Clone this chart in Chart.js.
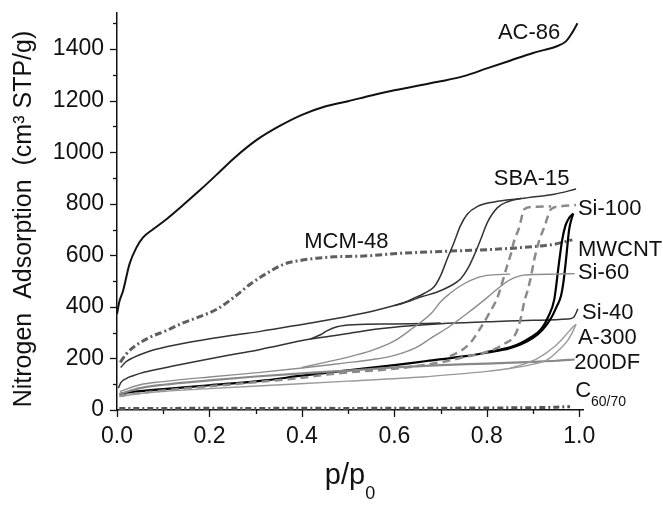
<!DOCTYPE html>
<html>
<head>
<meta charset="utf-8">
<script src="https://cdn.jsdelivr.net/npm/chart.js@4.4.1/dist/chart.umd.min.js"></script>
<style>
  body { margin: 0; background: #fff; }
</style>
</head>
<body>
<canvas id="isoChart" width="663" height="505"></canvas>
<script>
const FONT = "'Liberation Sans', Arial, sans-serif";

// axis ticks
const X_TICKS = [0, 0.1, 0.2, 0.3, 0.4, 0.5, 0.6, 0.7, 0.8, 0.9, 1.0];
const Y_TICKS = [0, 100, 200, 300, 400, 500, 600, 700, 800, 900, 1000, 1100, 1200, 1300, 1400, 1500];

// isotherms, [p/p0, cm3 STP/g]
const AC86 = [[0, 372], [0.005, 420], [0.013, 462], [0.027, 566], [0.042, 630], [0.056, 669], [0.078, 701],
  [0.107, 740], [0.143, 795], [0.179, 852], [0.215, 912], [0.252, 975], [0.3, 1045], [0.35, 1100], [0.4, 1145],
  [0.45, 1177], [0.5, 1198], [0.55, 1220], [0.6, 1240], [0.65, 1258], [0.7, 1275], [0.75, 1295], [0.8, 1325],
  [0.85, 1355], [0.9, 1385], [0.925, 1397], [0.95, 1410], [0.971, 1430], [0.984, 1462], [0.996, 1500]];

const MCM48 = [[0.007, 185], [0.02, 217], [0.035, 243], [0.071, 282], [0.107, 308], [0.143, 338], [0.179, 362],
  [0.216, 391], [0.252, 436], [0.288, 488], [0.324, 530], [0.36, 565], [0.396, 580], [0.432, 589], [0.469, 594],
  [0.541, 598], [0.613, 608], [0.7, 615], [0.8, 622], [0.874, 630], [0.946, 643], [0.985, 660]];

const SBA15_ADS = [[0.008, 165], [0.02, 188], [0.035, 203], [0.07, 228], [0.107, 245], [0.18, 270], [0.25, 290],
  [0.31, 305], [0.4, 332], [0.49, 360], [0.55, 382], [0.6, 405], [0.635, 424], [0.66, 440], [0.69, 456],
  [0.72, 480], [0.743, 508], [0.758, 546], [0.772, 598], [0.787, 663], [0.801, 727], [0.823, 785], [0.845, 808],
  [0.874, 820], [0.946, 837], [0.993, 857]];
const SBA15_DES = [[0.6, 405], [0.62, 416], [0.64, 432], [0.664, 452], [0.686, 478], [0.7, 521], [0.714, 585],
  [0.729, 650], [0.743, 715], [0.758, 760], [0.78, 790], [0.816, 807], [0.874, 820]];

const SI40_ADS = [[0.003, 85], [0.008, 105], [0.02, 122], [0.035, 133], [0.05, 142], [0.107, 165], [0.179, 191],
  [0.25, 215], [0.31, 235], [0.418, 275], [0.49, 294], [0.563, 314], [0.635, 327], [0.7, 335], [0.8, 342],
  [0.9, 348], [0.975, 353], [0.988, 360], [0.997, 392]];
const SI40_DES = [[0.418, 275], [0.44, 292], [0.454, 307], [0.476, 323], [0.512, 331], [0.6, 334], [0.7, 337]];

const MWCNT_ADS = [[0.006, 62], [0.02, 67], [0.05, 73], [0.107, 82], [0.2, 96], [0.31, 113], [0.4, 133],
  [0.49, 152], [0.6, 174], [0.67, 190], [0.75, 208], [0.8, 222], [0.85, 240], [0.874, 255], [0.9, 280],
  [0.92, 310], [0.94, 360], [0.952, 405], [0.96, 440], [0.966, 500], [0.971, 579], [0.978, 700], [0.983, 740],
  [0.987, 762]];
const MWCNT_DES = [[0.8, 225], [0.85, 243], [0.874, 260], [0.895, 282], [0.91, 300], [0.922, 325], [0.932, 359],
  [0.946, 430], [0.956, 570], [0.963, 660], [0.97, 715], [0.978, 745], [0.987, 762]];

const SI100_ADS = [[0.005, 55], [0.05, 66], [0.1, 76], [0.2, 92], [0.3, 108], [0.4, 125], [0.454, 138],
  [0.5, 146], [0.6, 160], [0.7, 185], [0.75, 205], [0.808, 230], [0.837, 256], [0.862, 295], [0.874, 360],
  [0.881, 420], [0.888, 463], [0.895, 514], [0.902, 579], [0.913, 656], [0.924, 708], [0.939, 779],
  [0.96, 790], [0.993, 795]];
const SI100_DES = [[0.72, 208], [0.744, 230], [0.765, 262], [0.787, 320], [0.805, 375], [0.823, 437],
  [0.845, 566], [0.852, 605], [0.859, 656], [0.87, 708], [0.881, 779], [0.9, 788], [0.939, 790]];

const SI60_ADS = [[0.006, 72], [0.05, 98], [0.1, 110], [0.2, 128], [0.31, 146], [0.4, 163], [0.49, 182],
  [0.55, 195], [0.6, 212], [0.65, 245], [0.68, 280], [0.72, 325], [0.76, 378], [0.8, 435], [0.83, 480],
  [0.85, 505], [0.88, 523], [0.95, 527], [0.99, 529]];
const SI60_DES = [[0.4, 165], [0.45, 185], [0.5, 205], [0.55, 230], [0.6, 268], [0.64, 318], [0.68, 375],
  [0.7, 420], [0.72, 452], [0.74, 478], [0.765, 503], [0.8, 522], [0.85, 527]];

const A300_ADS = [[0.006, 52], [0.05, 64], [0.1, 72], [0.2, 83], [0.324, 95], [0.5, 112], [0.66, 128],
  [0.729, 138], [0.8, 150], [0.837, 158], [0.896, 176], [0.932, 196], [0.96, 240], [0.975, 270], [0.986, 305],
  [0.993, 333]];
const A300_DES = [[0.85, 162], [0.88, 178], [0.91, 200], [0.946, 245], [0.968, 285], [0.985, 320], [0.993, 333]];

const DF200 = [[0.005, 62], [0.05, 85], [0.1, 98], [0.2, 115], [0.3, 130], [0.4, 142], [0.5, 153], [0.6, 165],
  [0.7, 174], [0.8, 180], [0.9, 187], [0.95, 191], [0.99, 196]];

const C6070 = [[0.005, 6], [0.1, 6], [0.2, 7], [0.3, 6], [0.4, 7], [0.5, 6], [0.6, 7], [0.7, 7], [0.8, 8],
  [0.9, 9], [0.95, 11], [0.98, 13]];

// curve names and where they sit (data coords)
const NAMES = ['AC-86', 'SBA-15', 'Si-100', 'MCM-48', 'MWCNT', 'Si-60', 'Si-40', 'A-300', '200DF'];
const NAME_AT = [[0.824, 1462], [0.815, 896], [0.997, 780], [0.405, 652], [0.997, 621], [0.997, 531],
  [1.006, 376], [0.997, 279], [0.989, 182]];

function branch(points, color, width, dash) {
  return {
    data: points.map(([x, y]) => ({ x, y })),
    borderColor: color,
    borderWidth: width,
    borderDash: dash || [],
    showLine: true,
    pointRadius: 0,
    fill: false,
    cubicInterpolationMode: 'monotone'
  };
}

const datasets = [
  branch(C6070, '#555', 3, [6, 3, 2, 3]),
  branch(A300_ADS, '#9a9a9a', 1.4),
  branch(A300_DES, '#9a9a9a', 1.4),
  branch(DF200, '#888', 2.2),
  branch(SI60_ADS, '#8c8c8c', 1.4),
  branch(SI60_DES, '#8c8c8c', 1.4),
  branch(SI100_ADS, '#8a8a8a', 2.5, [8, 5]),
  branch(SI100_DES, '#8a8a8a', 2.5, [8, 5]),
  branch(MWCNT_ADS, '#000', 2.2),
  branch(MWCNT_DES, '#000', 2.2),
  branch(SI40_ADS, '#333', 1.5),
  branch(SI40_DES, '#333', 1.5),
  branch(SBA15_ADS, '#333', 1.5),
  branch(SBA15_DES, '#333', 1.5),
  branch(MCM48, '#5e5e5e', 3, [7, 3, 2, 3]),
  branch(AC86, '#111', 2)
];

const extras = {
  id: 'extras',
  afterDraw(chart) {
    const { ctx, chartArea, scales: { x, y } } = chart;
    ctx.save();
    ctx.strokeStyle = '#111';
    ctx.lineWidth = 1.3;
    // tick marks, long for labelled ones
    X_TICKS.forEach((v, i) => {
      const px = Math.round(x.getPixelForValue(v)) + 0.5;
      ctx.beginPath();
      ctx.moveTo(px, chartArea.bottom);
      ctx.lineTo(px, chartArea.bottom + (i % 2 ? 4 : 7));
      ctx.stroke();
    });
    Y_TICKS.forEach((v, i) => {
      const py = Math.round(y.getPixelForValue(v)) + 0.5;
      ctx.beginPath();
      ctx.moveTo(chartArea.left, py);
      ctx.lineTo(chartArea.left - (i % 2 ? 4 : 7), py);
      ctx.stroke();
    });

    ctx.fillStyle = '#111';
    ctx.textBaseline = 'middle';
    ctx.textAlign = 'left';
    ctx.font = '22px ' + FONT;
    NAMES.forEach((name, i) => {
      ctx.fillText(name, x.getPixelForValue(NAME_AT[i][0]), y.getPixelForValue(NAME_AT[i][1]));
    });
    // C60/70 with subscript
    const cx = x.getPixelForValue(0.991), cy = y.getPixelForValue(75);
    ctx.fillText('C', cx, cy);
    const cw = ctx.measureText('C').width;
    ctx.font = '14px ' + FONT;
    ctx.fillText('60/70', cx + cw, cy + 11);

    // axis titles
    ctx.textBaseline = 'alphabetic';
    ctx.font = '29px ' + FONT;
    const pw = ctx.measureText('p/p').width;
    ctx.font = '18px ' + FONT;
    const sw = ctx.measureText('0').width;
    const tx = (chartArea.left + chartArea.right) / 2 - (pw + sw) / 2;
    ctx.textAlign = 'left';
    ctx.font = '29px ' + FONT;
    ctx.fillText('p/p', tx, 484);
    ctx.font = '18px ' + FONT;
    ctx.fillText('0', tx + pw, 499);

    ctx.translate(31, 219);
    ctx.rotate(-Math.PI / 2);
    ctx.textAlign = 'center';
    ctx.font = '25px ' + FONT;
    ctx.fillText('Nitrogen  Adsorption  (cm\u00B3 STP/g)', 0, 0);
    ctx.restore();
  }
};

new Chart(document.getElementById('isoChart'), {
  type: 'scatter',
  data: { datasets },
  options: {
    responsive: false,
    animation: false,
    layout: { padding: { top: 13, right: 80, left: 0, bottom: 0 } },
    plugins: { legend: { display: false }, tooltip: { enabled: false } },
    scales: {
      x: {
        type: 'linear',
        min: 0,
        max: 1.008,
        afterBuildTicks: s => { s.ticks = X_TICKS.map(v => ({ value: v })); },
        afterFit: s => { s.height = 95; s.paddingLeft = 0; s.paddingRight = 0; },
        grid: { display: false },
        border: { display: true, color: '#111', width: 1.5 },
        ticks: {
          autoSkip: false,
          maxRotation: 0,
          padding: 5,
          color: '#111',
          font: { family: FONT, size: 23 },
          callback: v => (Math.round(v * 10) % 2 === 0 ? v.toFixed(1) : '')
        }
      },
      y: {
        type: 'linear',
        min: 0,
        max: 1540,
        afterBuildTicks: s => { s.ticks = Y_TICKS.map(v => ({ value: v })); },
        afterFit: s => { s.width = 117; s.paddingTop = 0; s.paddingBottom = 0; },
        grid: { display: false },
        border: { display: true, color: '#111', width: 1.5 },
        ticks: {
          autoSkip: false,
          padding: 5,
          color: '#111',
          font: { family: FONT, size: 23 },
          callback: v => (v % 200 === 0 ? String(v) : '')
        }
      }
    }
  },
  plugins: [extras]
});
</script>
</body>
</html>
